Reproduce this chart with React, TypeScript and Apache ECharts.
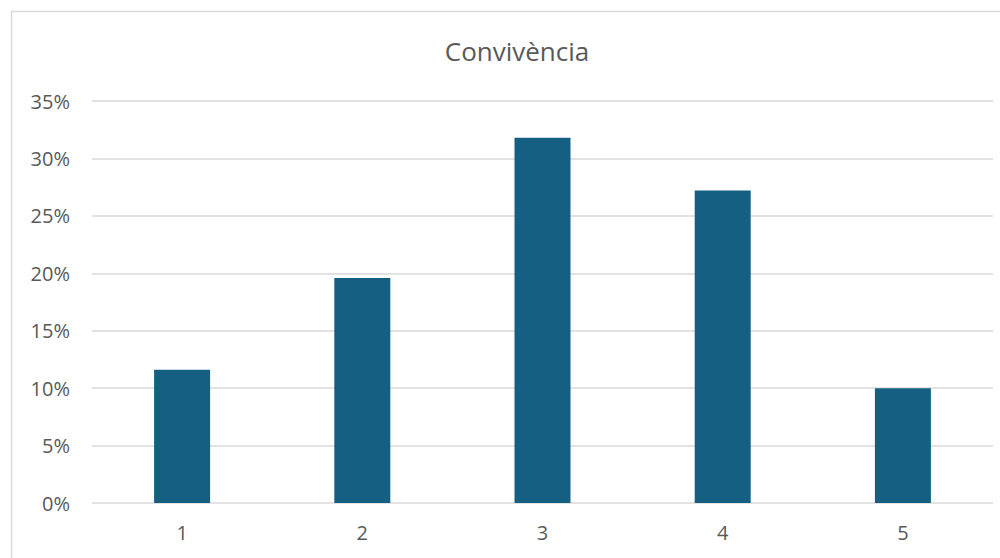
import React, { useEffect, useRef } from "react";
import * as echarts from "echarts";

const categories = ["1", "2", "3", "4", "5"];
const values = [11.6, 19.6, 31.8, 27.2, 10.0];
const yTicks = [0, 5, 10, 15, 20, 25, 30, 35];
const title = "Convivència";

export default function App() {
  const ref = useRef<HTMLDivElement>(null);
  useEffect(() => {
    if (!ref.current) return;
    const chart = echarts.init(ref.current, undefined, { renderer: "svg" });
    chart.setOption({
      animation: false,
      textStyle: { fontFamily: "Open Sans" },
      graphic: [
        {
          type: "rect",
          shape: { x: 11.5, y: 11.5, width: 1000, height: 600 },
          style: { fill: "none", stroke: "#d9d9d9", lineWidth: 1.5 },
          silent: true,
        },
        {
          type: "text",
          x: 517,
          y: 51,
          style: {
            text: title,
            fill: "#595959",
            fontSize: 26,
            fontFamily: "Open Sans",
            textAlign: "center",
            textVerticalAlign: "middle",
          },
        },
      ],
      grid: { left: 92, right: 7, top: 101, bottom: 55 },
      xAxis: {
        type: "category",
        data: categories,
        axisLine: { show: false },
        axisTick: { show: false },
        axisLabel: { color: "#595959", fontSize: 20, margin: 19, fontFamily: "Open Sans" },
      },
      yAxis: {
        type: "value",
        min: yTicks[0],
        max: yTicks[yTicks.length - 1],
        interval: 5,
        axisLine: { show: false },
        axisTick: { show: false },
        splitLine: { lineStyle: { color: "#d9d9d9", width: 1.5 } },
        axisLabel: {
          color: "#595959",
          fontSize: 20,
          margin: 22,
          fontFamily: "Open Sans",
          formatter: (v: number) => `${v}%`,
        },
      },
      series: [
        {
          type: "bar",
          data: values,
          barWidth: 56,
          itemStyle: { color: "#156082" },
        },
      ],
    });
    return () => chart.dispose();
  }, []);
  return (
    <div
      ref={ref}
      style={{ position: "fixed", left: 0, top: 0, width: 1000, height: 558, background: "#fff" }}
    />
  );
}
